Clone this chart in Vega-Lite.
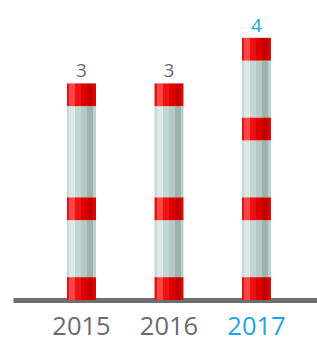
{
  "$schema": "https://vega.github.io/schema/vega-lite/v6.json",
  "width": 304,
  "height": 300,
  "autosize": {"type": "none"},
  "padding": {"left": 13, "top": 0, "right": 0, "bottom": 38},
  "background": "white",
  "view": {"stroke": null},
  "data": {
    "values": [
      {"year": "2015", "value": 3, "seg": 1, "kind": "red", "len": 1},
      {"year": "2015", "value": 3, "seg": 2, "kind": "grey", "len": 2.5},
      {"year": "2015", "value": 3, "seg": 3, "kind": "red", "len": 1},
      {"year": "2015", "value": 3, "seg": 4, "kind": "grey", "len": 4},
      {"year": "2015", "value": 3, "seg": 5, "kind": "red", "len": 1},
      {"year": "2016", "value": 3, "seg": 1, "kind": "red", "len": 1},
      {"year": "2016", "value": 3, "seg": 2, "kind": "grey", "len": 2.5},
      {"year": "2016", "value": 3, "seg": 3, "kind": "red", "len": 1},
      {"year": "2016", "value": 3, "seg": 4, "kind": "grey", "len": 4},
      {"year": "2016", "value": 3, "seg": 5, "kind": "red", "len": 1},
      {"year": "2017", "value": 4, "seg": 1, "kind": "red", "len": 1},
      {"year": "2017", "value": 4, "seg": 2, "kind": "grey", "len": 2.5},
      {"year": "2017", "value": 4, "seg": 3, "kind": "red", "len": 1},
      {"year": "2017", "value": 4, "seg": 4, "kind": "grey", "len": 2.5},
      {"year": "2017", "value": 4, "seg": 5, "kind": "red", "len": 1},
      {"year": "2017", "value": 4, "seg": 6, "kind": "grey", "len": 2.5},
      {"year": "2017", "value": 4, "seg": 7, "kind": "red", "len": 1}
    ]
  },
  "transform": [
    {"stack": "len", "groupby": ["year"], "sort": [{"field": "seg", "order": "ascending"}], "as": ["y0", "y1"]}
  ],
  "encoding": {
    "x": {
      "field": "year",
      "type": "nominal",
      "sort": "ascending",
      "scale": {"paddingInner": 0.6686, "paddingOuter": 0.5714, "align": 0.54},
      "axis": {
        "title": null,
        "labelAngle": 0,
        "ticks": false,
        "tickSize": 0,
        "domain": true,
        "domainColor": "#6e6e6e",
        "domainWidth": 5,
        "labelFont": "Open Sans",
        "labelFontSize": 25.5,
        "labelPadding": 14,
        "labelColor": {"condition": {"test": "datum.value == '2017'", "value": "#1ba7df"}, "value": "#6b6b6b"}
      }
    }
  },
  "layer": [
    {
      "transform": [{"filter": "datum.kind == 'grey'"}],
      "mark": {
        "type": "bar",
        "color": {
          "gradient": "linear", "x1": 0, "y1": 0, "x2": 1, "y2": 0,
          "stops": [
            {"offset": 0, "color": "#c6d8d4"}, {"offset": 0.07, "color": "#c6d8d4"},
            {"offset": 0.07, "color": "#dde9e5"}, {"offset": 0.276, "color": "#dde9e5"},
            {"offset": 0.276, "color": "#c4d6d2"}, {"offset": 0.483, "color": "#c4d6d2"},
            {"offset": 0.483, "color": "#b4c9c3"}, {"offset": 0.69, "color": "#b4c9c3"},
            {"offset": 0.69, "color": "#9db4ad"}, {"offset": 0.897, "color": "#9db4ad"},
            {"offset": 0.897, "color": "#bdd0cb"}, {"offset": 1, "color": "#bdd0cb"}
          ]
        }
      },
      "encoding": {
        "y": {"field": "y1", "type": "quantitative", "scale": {"domain": [0, 13.158], "nice": false, "zero": true}, "axis": null},
        "y2": {"field": "y0"}
      }
    },
    {
      "transform": [{"filter": "datum.kind == 'red'"}],
      "mark": {
        "type": "bar",
        "color": {
          "gradient": "linear", "x1": 0, "y1": 0, "x2": 1, "y2": 0,
          "stops": [
            {"offset": 0, "color": "#e41212"}, {"offset": 0.07, "color": "#e41212"},
            {"offset": 0.07, "color": "#ff4646"}, {"offset": 0.276, "color": "#ff4646"},
            {"offset": 0.276, "color": "#ee1111"}, {"offset": 0.483, "color": "#ee1111"},
            {"offset": 0.483, "color": "#e00000"}, {"offset": 0.69, "color": "#e00000"},
            {"offset": 0.69, "color": "#c40000"}, {"offset": 0.897, "color": "#c40000"},
            {"offset": 0.897, "color": "#e00606"}, {"offset": 1, "color": "#e00606"}
          ]
        }
      },
      "encoding": {
        "y": {"field": "y1", "type": "quantitative", "scale": {"domain": [0, 13.158], "nice": false, "zero": true}, "axis": null},
        "y2": {"field": "y0"}
      }
    },
    {
      "transform": [
        {"aggregate": [{"op": "sum", "field": "len", "as": "top"}, {"op": "max", "field": "value", "as": "value"}], "groupby": ["year"]}
      ],
      "mark": {"type": "text", "font": "Open Sans", "fontSize": 19, "baseline": "alphabetic", "dy": -6},
      "encoding": {
        "y": {"field": "top", "type": "quantitative", "scale": {"domain": [0, 13.158], "nice": false, "zero": true}, "axis": null},
        "text": {"field": "value", "type": "quantitative"},
        "color": {"condition": {"test": "datum.year == '2017'", "value": "#1ba7df"}, "value": "#6b6b6b"}
      }
    }
  ]
}
